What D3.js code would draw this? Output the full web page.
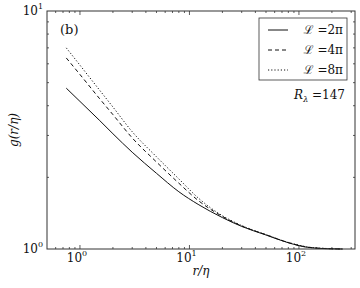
<!DOCTYPE html>
<html>
<head>
<meta charset="utf-8">
<script src="https://cdn.jsdelivr.net/npm/d3@7"></script>
<style>
  body { margin: 0; background: white; }
  text { font-family: "DejaVu Serif", "Liberation Serif", serif; fill: #111; }
</style>
</head>
<body>
<svg id="svg" width="360" height="288"></svg>
<script>
// separation r/eta
var rValues = [0.75, 1, 1.5, 2, 3, 5, 8, 12, 20, 30, 50, 80, 120, 180, 250]
// g(r/eta) for each box size
var g2pi = [4.74, 4.17, 3.48, 3.05, 2.55, 2.08, 1.74, 1.54, 1.355, 1.244, 1.145, 1.062, 1.016, 1.003, 1.0]
var g4pi = [6.35, 5.41, 4.30, 3.67, 2.93, 2.32, 1.89, 1.60, 1.37, 1.25, 1.148, 1.064, 1.018, 1.004, 1.0]
var g8pi = [7.0, 5.92, 4.67, 3.95, 3.11, 2.44, 1.97, 1.64, 1.38, 1.255, 1.15, 1.066, 1.02, 1.005, 1.0]
var seriesNames = ["2\u03C0", "4\u03C0", "8\u03C0"]
var xTickLabels = ["0", "1", "2"]
var yTickLabels = ["0", "1"]

var margin = { left: 47, right: 5, top: 11, bottom: 39 }
var width = 360, height = 288

var svg = d3.select("svg")

var x = d3.scaleLog().domain([0.5, 325]).range([margin.left, width - margin.right])
var y = d3.scaleLog().domain([1, 10]).range([height - margin.bottom, margin.top])

var x0 = x.range()[0], x1 = x.range()[1]
var y0 = y.range()[0], y1 = y.range()[1]

// ticks, inward on all four sides
var axisColor = "#333"
var ticks = svg.append("g").attr("stroke", axisColor).attr("stroke-width", 0.8)

var xMajor = [1, 10, 100]
var xMinor = []
for (var e = -1; e <= 2; e++) {
    for (var k = 2; k <= 9; k++) {
        var v = k * Math.pow(10, e)
        if (v > 0.5 && v < 325) xMinor.push(v)
    }
}
var yMinor = [2, 3, 4, 5, 6, 7, 8, 9]

function xTick(v, len) {
    ticks.append("line").attr("x1", x(v)).attr("x2", x(v)).attr("y1", y0).attr("y2", y0 - len)
    ticks.append("line").attr("x1", x(v)).attr("x2", x(v)).attr("y1", y1).attr("y2", y1 + len)
}
function yTick(v, len) {
    ticks.append("line").attr("y1", y(v)).attr("y2", y(v)).attr("x1", x0).attr("x2", x0 + len)
    ticks.append("line").attr("y1", y(v)).attr("y2", y(v)).attr("x1", x1).attr("x2", x1 - len)
}
xMajor.forEach(function (v) { xTick(v, 4) })
xMinor.forEach(function (v) { xTick(v, 2) })
yMinor.forEach(function (v) { yTick(v, 2) })

// tick labels
xMajor.forEach(function (v, i) {
    var t = svg.append("text").attr("x", x(v) - 3).attr("y", y0 + 13)
        .attr("text-anchor", "middle").attr("font-size", 12)
    t.append("tspan").text("10")
    t.append("tspan").attr("font-size", 8).attr("dy", -6).text(xTickLabels[i])
})
;[1, 10].forEach(function (v, i) {
    var t = svg.append("text").attr("x", x0 - 4).attr("y", y(v) + 4)
        .attr("text-anchor", "end").attr("font-size", 12)
    t.append("tspan").text("10")
    t.append("tspan").attr("font-size", 8).attr("dy", -6).text(yTickLabels[i])
})

// axis labels
svg.append("text").attr("x", (x0 + x1) / 2).attr("y", 275).attr("text-anchor", "middle")
    .attr("font-size", 12).attr("font-style", "italic").text("r/\u03B7")
svg.append("text").attr("transform", "translate(18," + ((y0 + y1) / 2) + ") rotate(-90)")
    .attr("text-anchor", "middle").attr("font-size", 12).attr("font-style", "italic")
    .text("g(r/\u03B7)")

// curves
var dashes = [null, "4,3", "1.2,2"]
var series = [g2pi, g4pi, g8pi]
var line = d3.line().x(function (d) { return x(d[0]) }).y(function (d) { return y(d[1]) })
    .curve(d3.curveMonotoneX)

series.forEach(function (s, i) {
    svg.append("path")
        .datum(rValues.map(function (r, j) { return [r, s[j]] }))
        .attr("fill", "none").attr("stroke", "#111").attr("stroke-width", 1)
        .attr("stroke-dasharray", dashes[i])
        .attr("d", line)
})

// frame
svg.append("rect").attr("x", x0).attr("y", y1).attr("width", x1 - x0).attr("height", y0 - y1)
    .attr("fill", "none").attr("stroke", axisColor).attr("stroke-width", 1)

// panel label
svg.append("text").attr("x", 60).attr("y", 34).attr("font-size", 13).text("(b)")

// legend
var legend = svg.append("g")
legend.append("rect").attr("x", 259).attr("y", 18).attr("width", 88).attr("height", 62)
    .attr("fill", "white").attr("stroke", "#333").attr("stroke-width", 0.8)
seriesNames.forEach(function (name, i) {
    var ly = 30 + i * 20
    legend.append("line").attr("x1", 268).attr("x2", 288).attr("y1", ly).attr("y2", ly)
        .attr("stroke", "#111").attr("stroke-width", 1).attr("stroke-dasharray", dashes[i])
    var t = legend.append("text").attr("x", 343).attr("y", ly + 4).attr("text-anchor", "end")
        .attr("font-size", 12)
    t.append("tspan").attr("font-family", "Noto Sans, DejaVu Sans").text("\u2112")
    t.append("tspan").text(" =" + name)
})

// Reynolds number
var rl = svg.append("text").attr("x", 345).attr("y", 99).attr("text-anchor", "end").attr("font-size", 12)
rl.append("tspan").attr("font-style", "italic").text("R")
rl.append("tspan").attr("font-size", 8).attr("dy", 3).attr("font-style", "italic").text("\u03BB")
rl.append("tspan").attr("dy", -3).text(" =147")
</script>
</body>
</html>
